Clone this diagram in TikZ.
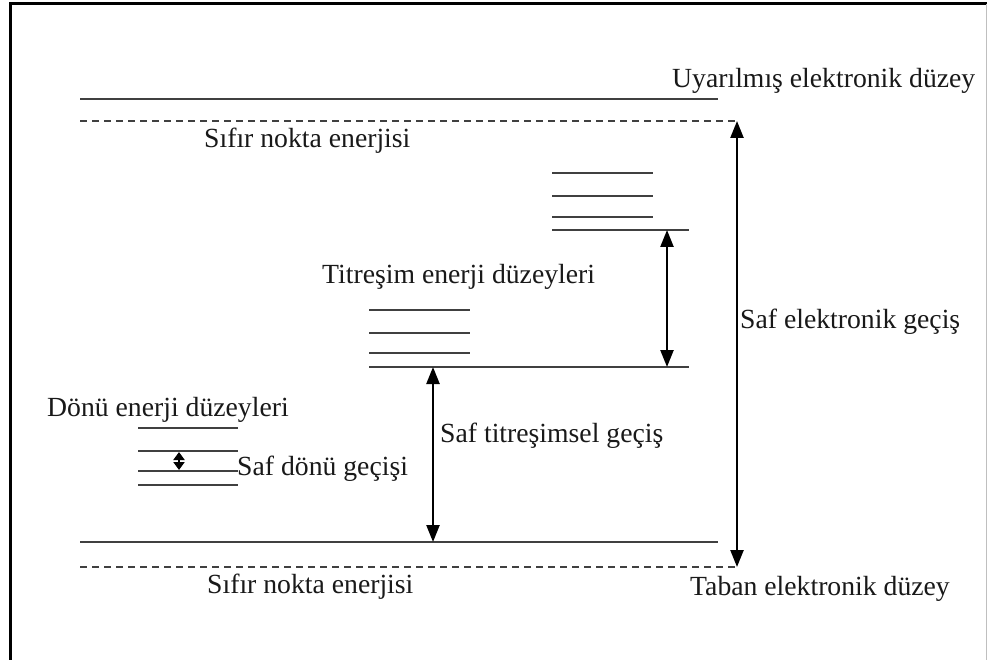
\documentclass[tikz,border=0pt]{standalone}
\usepackage{fontspec}
\setmainfont{Liberation Serif}
\usetikzlibrary{arrows.meta}
\begin{document}
\begin{tikzpicture}[x=1pt,y=-1pt,
 lvl/.style={line width=2.8pt, draw=black!75},
 zpe/.style={line width=2.2pt, draw=black!75, dash pattern=on 7pt off 5pt},
 dbl/.style={line width=2.4pt, draw=black, {Triangle[length=17pt,width=13pt]}-{Triangle[length=17pt,width=13pt]}},
 smalldbl/.style={line width=2.4pt, draw=black, {Triangle[length=8pt,width=11pt]}-{Triangle[length=8pt,width=11pt]}},
 lbl/.style={anchor=base west, inner sep=0pt, font=\fontsize{27.7}{33}\selectfont, text=black!90}]
\useasboundingbox (0,0) rectangle (987,660);
\fill[white] (0,0) rectangle (987,660);
% frame
\coordinate (fbl) at (10,662);
\coordinate (ftl) at (10,4);
\coordinate (ftr) at (988,4);
\coordinate (fr1) at (986,4);
\coordinate (fr2) at (986,662);
\draw[line width=3pt] (fbl) -- (ftl) -- (ftr);
\draw[line width=0.8pt, black!25] (fr1) -- (fr2);
% electronic levels
\coordinate (ts1) at (80,99);  \coordinate (ts2) at (718,99);
\coordinate (td1) at (80,121); \coordinate (td2) at (737,121);
\coordinate (bs1) at (80,542); \coordinate (bs2) at (718,542);
\coordinate (bd1) at (80,567); \coordinate (bd2) at (737,567);
\draw[lvl] (ts1) -- (ts2);
\draw[zpe] (td1) -- (td2);
\draw[lvl] (bs1) -- (bs2);
\draw[zpe] (bd1) -- (bd2);
\draw[dbl] (td2) -- (bd2);
% upper vibrational levels
\coordinate (u1a) at (552,173); \coordinate (u1b) at (653,173);
\coordinate (u2a) at (552,196); \coordinate (u2b) at (653,196);
\coordinate (u3a) at (552,217); \coordinate (u3b) at (653,217);
\coordinate (u4a) at (552,230); \coordinate (u4b) at (689,230);
\draw[lvl] (u1a) -- (u1b);
\draw[lvl] (u2a) -- (u2b);
\draw[lvl] (u3a) -- (u3b);
\draw[lvl] (u4a) -- (u4b);
% lower vibrational levels
\coordinate (l1a) at (369,310); \coordinate (l1b) at (470,310);
\coordinate (l2a) at (369,333); \coordinate (l2b) at (470,333);
\coordinate (l3a) at (369,353); \coordinate (l3b) at (470,353);
\coordinate (l4a) at (369,367); \coordinate (l4b) at (689,367);
\draw[lvl] (l1a) -- (l1b);
\draw[lvl] (l2a) -- (l2b);
\draw[lvl] (l3a) -- (l3b);
\draw[lvl] (l4a) -- (l4b);
\coordinate (av1) at (667,230); \coordinate (av2) at (667,367);
\draw[dbl] (av1) -- (av2);
\coordinate (aw1) at (433,367); \coordinate (aw2) at (433,542);
\draw[dbl] (aw1) -- (aw2);
% rotational levels
\coordinate (r1a) at (138,428); \coordinate (r1b) at (238,428);
\coordinate (r2a) at (138,451); \coordinate (r2b) at (238,451);
\coordinate (r3a) at (138,471); \coordinate (r3b) at (238,471);
\coordinate (r4a) at (138,485); \coordinate (r4b) at (238,485);
\draw[lvl] (r1a) -- (r1b);
\draw[lvl] (r2a) -- (r2b);
\draw[lvl] (r3a) -- (r3b);
\draw[lvl] (r4a) -- (r4b);
\coordinate (ar1) at (179,452); \coordinate (ar2) at (179,470);
\draw[smalldbl] (ar1) -- (ar2);
% labels
\node[lbl] (uy) at (672,88) {Uyarılmış elektronik düzey};
\node[lbl] (s1) at (204,148) {Sıfır nokta enerjisi};
\node[lbl] (ti) at (322,283) {Titreşim enerji düzeyleri};
\node[lbl] (se) at (740,328) {Saf elektronik geçiş};
\node[lbl] (do) at (47,416) {Dönü enerji düzeyleri};
\node[lbl] (st) at (440,442) {Saf titreşimsel geçiş};
\node[lbl] (sd) at (237,475) {Saf dönü geçişi};
\node[lbl] (s2) at (207,593) {Sıfır nokta enerjisi};
\node[lbl] (ta) at (690,595) {Taban elektronik düzey};
\end{tikzpicture}
\end{document}
